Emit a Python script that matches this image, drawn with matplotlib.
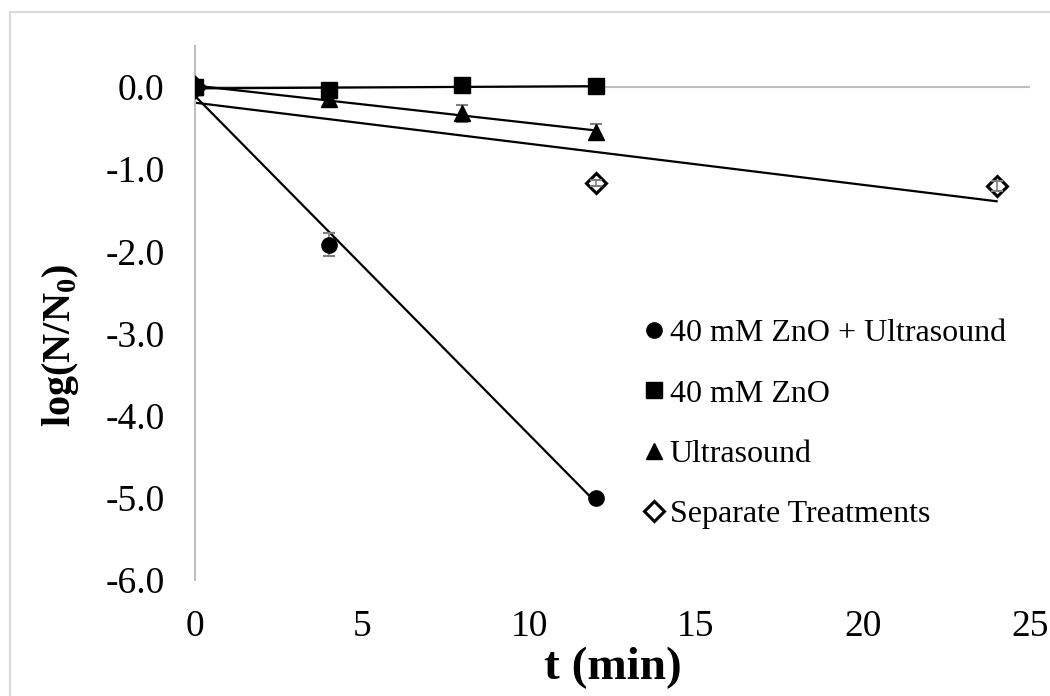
import numpy as np
import matplotlib.pyplot as plt
from matplotlib.patches import Rectangle

plt.rcParams["font.family"] = ["Liberation Serif", "DejaVu Serif"]
plt.rcParams["mathtext.fontset"] = "custom"
plt.rcParams["mathtext.rm"] = "Liberation Serif"
plt.rcParams["mathtext.bf"] = "Liberation Serif:bold"

# time points (min) and log reductions for each treatment
t_combo = [0, 4, 12]
y_combo = [0.0, -1.92, -5.0]
e_combo = [0.03, 0.14, 0.03]

t_zno = [0, 4, 8, 12]
y_zno = [0.0, -0.04, 0.02, 0.01]
e_zno = [0.03, 0.03, 0.03, 0.03]

t_us = [0, 4, 8, 12]
y_us = [0.0, -0.15, -0.32, -0.55]
e_us = [0.05, 0.08, 0.10, 0.10]

t_sep = [0, 12, 24]
y_sep = [0.0, -1.17, -1.20]
e_sep = [0.0, 0.04, 0.06]

labels = ["40 mM ZnO + Ultrasound", "40 mM ZnO", "Ultrasound", "Separate Treatments"]

fig = plt.figure(figsize=(10.5, 6.96), dpi=100)
ax = fig.add_axes([195 / 1050, 1 - 580 / 696, (1030 - 195) / 1050, (580 - 46) / 696])

# outer chart border (runs off the right and bottom edges)
fig.patches.append(Rectangle((10 / 1050, -0.1), 1.2, 1 - 12 / 696 + 0.1,
                             transform=fig.transFigure, fill=False,
                             edgecolor="#d9d9d9", linewidth=1.5, zorder=0))

ecol = "#7f7f7f"
# marker, face colour, size, marker zorder, error bar zorder
series = [
    (t_combo, y_combo, e_combo, "o", "black", 11, 4, 3.5),
    (t_zno, y_zno, e_zno, "s", "black", 12, 5, 4.5),
    (t_us, y_us, e_us, "^", "black", 11, 4, 3.5),
    (t_sep, y_sep, e_sep, "D", "white", 10.5, 3, 3.5),
]
handles = []
for (tt, yy, ee, mk, fc, ms, z, ze), lab in zip(series, labels):
    ax.errorbar(tt, yy, yerr=ee, fmt="none", ecolor=ecol, elinewidth=1.2,
                capsize=4.5, capthick=1.5, zorder=ze)
    h, = ax.plot(tt, yy, linestyle="none", marker=mk, markersize=ms,
                 markerfacecolor=fc, markeredgecolor="black",
                 markeredgewidth=2.2 if fc == "white" else 1, label=lab, zorder=z)
    handles.append(h)
    # linear trendline over the sampled range
    k, b = np.polyfit(tt, yy, 1)
    xs = np.array([min(tt), max(tt)])
    ax.plot(xs, k * xs + b, color="black", linewidth=1.6, zorder=2)

ax.axhline(0, color="#bfbfbf", linewidth=1.5, zorder=1)

ax.set_xlim(0, 25)
ax.set_ylim(-6, 0.5)
ax.set_xticks([0, 5, 10, 15, 20, 25])
ax.set_yticks(np.arange(-6, 0.1, 1.0))
ax.set_yticklabels([f"{v:.1f}" for v in np.arange(-6, 0.1, 1.0)])
ax.tick_params(length=0, labelsize=27)
ax.tick_params(axis="y", pad=22)
ax.tick_params(axis="x", pad=21)

for s in ["top", "right", "bottom"]:
    ax.spines[s].set_visible(False)
ax.spines["left"].set_color("#bfbfbf")
ax.spines["left"].set_linewidth(1.5)

ax.set_xlabel("t (min)", fontsize=34, fontweight="bold", labelpad=2)
ax.set_ylabel("log(N/N$_\\mathbf{0}$)", fontsize=29, fontweight="bold")
ax.yaxis.set_label_coords(-0.137, 0.44)

ax.legend(handles=handles, loc="upper left", bbox_to_anchor=(628 / 1050, 1 - 303 / 696),
          bbox_transform=fig.transFigure, frameon=False, fontsize=23,
          handlelength=0.6, handletextpad=0.2, labelspacing=0.97, borderpad=0)

fig.savefig("out.png", dpi=100)
